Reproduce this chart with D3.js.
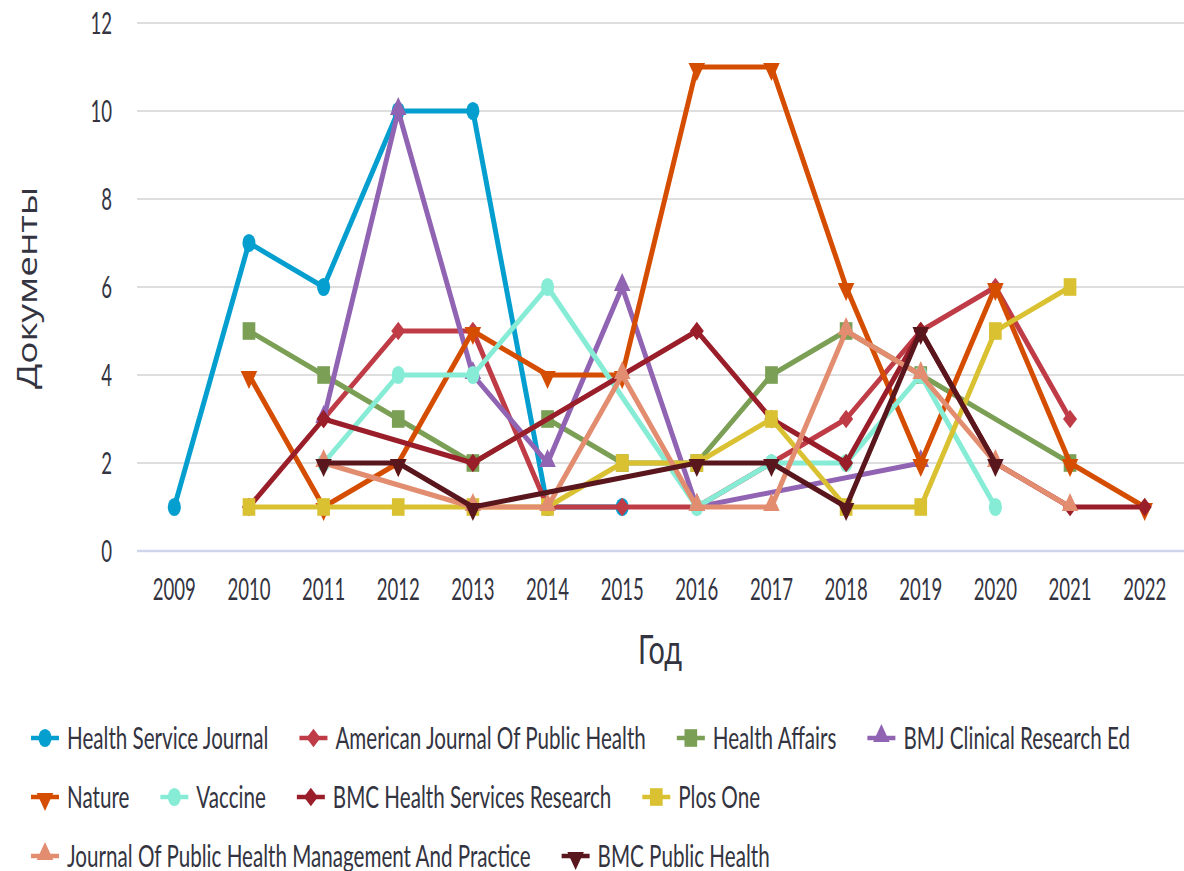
<!DOCTYPE html>
<html>
<head>
<meta charset="utf-8">
<script src="https://cdn.jsdelivr.net/npm/d3@7"></script>
<style>
  body { margin: 0; background: #fff; }
  svg { display: block; font-family: Lato, "Open Sans", sans-serif; }
</style>
</head>
<body>
<svg id="chart" width="1184" height="871"></svg>
<script>
const years = [2009, 2010, 2011, 2012, 2013, 2014, 2015, 2016, 2017, 2018, 2019, 2020, 2021, 2022];
const yTicks = [0, 2, 4, 6, 8, 10, 12];

// values per year, null = no documents that year (line joins across)
const healthServiceJournal = [1, 7, 6, 10, 10, 1, 1, null, null, null, null, null, null, null];
const amJournalPublicHealth = [null, null, 3, 5, 5, 1, 1, 1, 2, 3, 5, 6, 3, null];
const healthAffairs = [null, 5, 4, 3, 2, 3, 2, 2, 4, 5, 4, null, 2, null];
const bmjClinical = [null, null, 3, 10, 4, 2, 6, 1, null, null, 2, null, null, null];
const nature = [null, 4, 1, 2, 5, 4, 4, 11, 11, 6, 2, 6, 2, 1];
const vaccine = [null, null, 2, 4, 4, 6, null, 1, 2, 2, 4, 1, null, null];
const bmcHealthServices = [null, 1, 3, null, 2, null, null, 5, 3, 2, 5, 2, 1, 1];
const plosOne = [null, 1, 1, 1, 1, 1, 2, 2, 3, 1, 1, 5, 6, null];
const jphmp = [null, null, 2, null, 1, 1, 4, 1, 1, 5, 4, 2, 1, null];
const bmcPublicHealth = [null, null, 2, 2, 1, null, null, 2, 2, 1, 5, 2, null, null];

const seriesNames = [
  "Health Service Journal", "American Journal Of Public Health", "Health Affairs",
  "BMJ Clinical Research Ed", "Nature", "Vaccine", "BMC Health Services Research",
  "Plos One", "Journal Of Public Health Management And Practice", "BMC Public Health"
];
const seriesValues = [
  healthServiceJournal, amJournalPublicHealth, healthAffairs, bmjClinical, nature,
  vaccine, bmcHealthServices, plosOne, jphmp, bmcPublicHealth
];
const colors = ["#049fcf", "#bf3c47", "#7a9f55", "#9163b3", "#d54d00",
  "#86ecd5", "#9a1e2a", "#d9c132", "#e38d70", "#5a161d"];
const shapes = ["circle", "diamond", "square", "triUp", "triDown",
  "circle", "diamond", "square", "triUp", "triDown"];

const squeeze = 0.62;   // the picture is narrowed horizontally
const textColor = "#33343f";

const svg = d3.select("#chart");
const x = d3.scalePoint().domain(years).range([137, 1182]).padding(0.5);
const y = d3.scaleLinear().domain([0, 12]).range([551, 23]);

// grid
svg.append("g").selectAll("line")
  .data(yTicks.filter(d => d > 0))
  .join("line")
  .attr("x1", 137).attr("x2", 1184)
  .attr("y1", d => y(d)).attr("y2", d => y(d))
  .attr("stroke", "#dedede").attr("stroke-width", 2);
svg.append("line")
  .attr("x1", 137).attr("x2", 1184)
  .attr("y1", y(0)).attr("y2", y(0))
  .attr("stroke", "#cdd6ea").attr("stroke-width", 2.5);

function squishText(g, px, py, str, size, anchor, k = squeeze) {
  return g.append("text")
    .attr("transform", `translate(${px},${py}) scale(${k},1)`)
    .attr("text-anchor", anchor)
    .attr("font-size", size)
    .attr("fill", textColor)
    .text(str);
}

// y tick labels
const yAxisG = svg.append("g");
yTicks.forEach(t => squishText(yAxisG, 112, y(t) + 11, t, 30, "end"));
// x tick labels
const xAxisG = svg.append("g");
years.forEach(yr => squishText(xAxisG, x(yr), 600, yr, 30, "middle"));

// axis titles
squishText(svg, 660, 664, "Год", 40, "middle", 0.72);
svg.append("text")
  .attr("transform", `translate(37,288) scale(0.72,1) rotate(-90)`)
  .attr("text-anchor", "middle")
  .attr("font-family", "'Open Sans', sans-serif")
  .attr("font-size", 37)
  .attr("fill", textColor)
  .text("Документы");

function markerPath(shape) {
  if (shape === "circle") return d3.symbol(d3.symbolCircle, 260)();
  if (shape === "square") return d3.symbol(d3.symbolSquare, 310)();
  if (shape === "diamond") return d3.symbol(d3.symbolSquare, 175)();
  return d3.symbol(d3.symbolTriangle, 185)();
}
function markerTransform(shape, px, py) {
  if (shape === "diamond") return `translate(${px},${py}) scale(0.75,1) rotate(45)`;
  if (shape === "triDown") return `translate(${px},${py + 2}) scale(0.8,1) rotate(180)`;
  if (shape === "triUp") return `translate(${px},${py - 2}) scale(0.8,1)`;
  return `translate(${px},${py}) scale(0.72,1)`;
}

const line = d3.line()
  .x(d => x(d.year))
  .y(d => y(d.value));

seriesValues.forEach((vals, i) => {
  const pts = years.map((yr, j) => ({ year: yr, value: vals[j] }))
    .filter(d => d.value !== null);
  const g = svg.append("g");
  g.append("path")
    .datum(pts)
    .attr("d", line)
    .attr("fill", "none")
    .attr("stroke", colors[i])
    .attr("stroke-width", 5)
    .attr("stroke-linejoin", "round");
  g.selectAll("path.pt")
    .data(pts)
    .join("path")
    .attr("class", "pt")
    .attr("d", markerPath(shapes[i]))
    .attr("transform", d => markerTransform(shapes[i], x(d.year), y(d.value)))
    .attr("fill", colors[i]);
});

// legend, flowing left to right and wrapping
const legendSqueeze = 0.665;
const legend = svg.append("g");
const rowH = 59;
let lx = 31, row = 0;
seriesNames.forEach((name, i) => {
  const item = legend.append("g");
  const t = squishText(item, 0, 0, name, 31, "start", legendSqueeze);
  const w = t.node().getComputedTextLength() * legendSqueeze;
  const itemW = 28 + 8 + w;
  if (lx + itemW > 1160) { row += 1; lx = 31; }
  const cy = 738 + row * rowH;
  t.attr("transform", `translate(${lx + 36},${cy + 11}) scale(${legendSqueeze},1)`);
  item.append("line")
    .attr("x1", lx).attr("x2", lx + 28)
    .attr("y1", cy).attr("y2", cy)
    .attr("stroke", colors[i]).attr("stroke-width", 4.5);
  item.append("path")
    .attr("d", markerPath(shapes[i]))
    .attr("transform", markerTransform(shapes[i], lx + 14, cy))
    .attr("fill", colors[i]);
  lx += itemW + 31;
});
</script>
</body>
</html>
